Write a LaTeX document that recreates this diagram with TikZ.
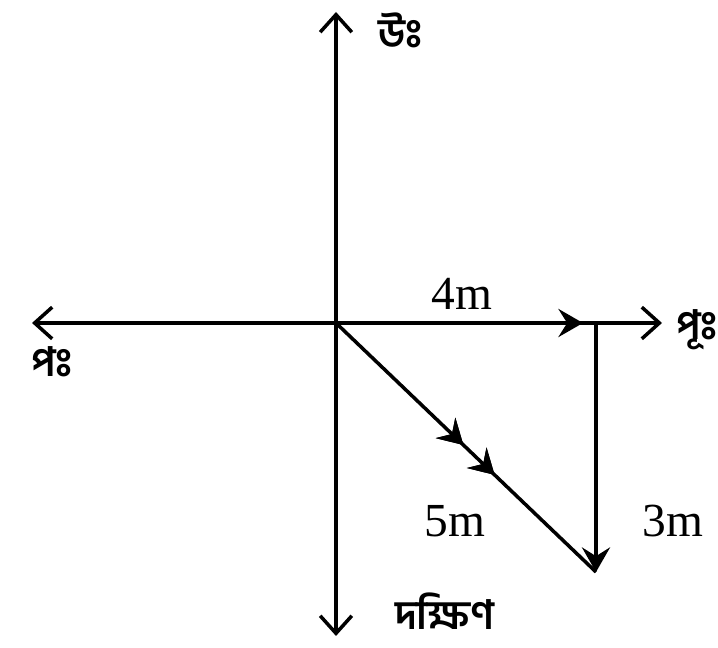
\documentclass[tikz,border=0pt]{standalone}
\usepackage{fontspec}
\setmainfont{Liberation Serif}
\newfontfamily\bnfont[Script=Bengali]{Hind Siliguri}
\usetikzlibrary{arrows.meta,decorations.markings}

\begin{document}
\begin{tikzpicture}[
    x=0.02cm, y=-0.02cm,
    axis/.style={{Straight Barb[length=10pt,width=18pt]}-{Straight Barb[length=10pt,width=18pt]}, line width=2pt},
    vec/.style={line width=2pt},
    midarrow/.style={postaction=decorate, decoration={markings,
        mark=at position #1 with {\arrow{Stealth[length=14pt,width=16pt,inset=5pt]}}}},
    lbl/.style={font=\fontsize{27}{31}\selectfont},
    dirlbl/.style={font=\bnfont\bfseries\fontsize{23}{27}\selectfont}
]
    \useasboundingbox (0,0) rectangle (718,648);

    % Points
    \coordinate (origin) at (336,323);
    \coordinate (north) at (336,12);
    \coordinate (south) at (336,636);
    \coordinate (west) at (32,323);
    \coordinate (east) at (662,323);
    \coordinate (corner) at (596,323);
    \coordinate (finish) at (596,572);

    % Axes
    \draw[axis] (north) -- (south);
    \draw[axis] (west) -- (east);

    % Displacements
    \draw[vec, midarrow=0.95] (origin) -- (corner);
    \draw[vec, -{Stealth[length=14pt,width=16pt,inset=5pt]}] (corner) -- (finish);
    \draw[vec, midarrow=0.49, midarrow=0.61] (origin) -- (finish);

    % Labels
    \node[lbl] (lenE) at (462,294) {4m};
    \node[lbl] (lenD) at (455,521) {5m};
    \node[lbl] (lenS) at (673,521) {3m};
    \node[dirlbl] (lblN) at (401,30) {উঃ};
    \node[dirlbl, anchor=west, inner sep=1pt] (lblE) at (674,330) {পূঃ};
    \node[dirlbl] (lblW) at (52,362) {পঃ};
    \node[dirlbl, inner sep=0pt] (lblS) at (445,611) {দক্ষিণ};
\end{tikzpicture}
\end{document}
